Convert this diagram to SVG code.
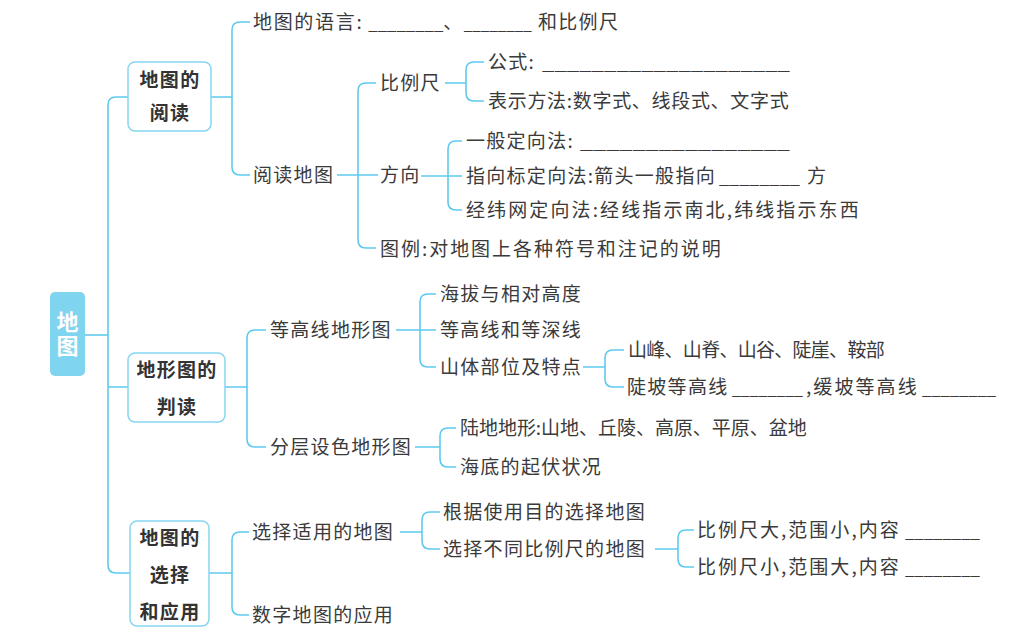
<svg xmlns="http://www.w3.org/2000/svg" width="1036" height="642" viewBox="0 0 1036 642">
<style>
text{font-family:"Noto Sans CJK SC","Noto Sans",sans-serif;}
.t{font-size:19px;fill:#3a3a3a;letter-spacing:1.3px;}
.u{letter-spacing:0;}
.b{font-size:19px;font-weight:bold;fill:#333;letter-spacing:1.3px;text-anchor:middle;}
.box{fill:#fff;stroke:#86d6f2;stroke-width:1.5;}
.c{fill:none;stroke:#5fcaef;stroke-width:1.6;}
</style>
<rect width="1036" height="642" fill="#fff"/>
<g id="connectors">
<path class="c" d="M85,335 H108"/>
<path class="c" d="M128,97 H116 Q108,97 108,105 V565 Q108,573 116,573 H130 M108,387 H128"/>
<path class="c" d="M211,97 H232 M250,22 H240 Q232,22 232,30 V167 Q232,175 240,175 H250"/>
<path class="c" d="M337,175 H378 M376,83 H366 Q358,83 358,91 V240 Q358,248 366,248 H376"/>
<path class="c" d="M445,83 H466 M484,62 H474 Q466,62 466,70 V93 Q466,101 474,101 H484"/>
<path class="c" d="M421,176 H462 M462,141 H456 Q448,141 448,149 V202 Q448,210 456,210 H462"/>
<path class="c" d="M225,387 H247 M266,330 H255 Q247,330 247,338 V439 Q247,447 255,447 H266"/>
<path class="c" d="M396,330 H436 M436,294 H428 Q420,294 420,302 V359 Q420,367 428,367 H436"/>
<path class="c" d="M583,367 H605 M624,350 H613 Q605,350 605,358 V379 Q605,387 613,387 H624"/>
<path class="c" d="M415,447 H440 M456,428 H448 Q440,428 440,436 V459 Q440,467 448,467 H456"/>
<path class="c" d="M209,573 H232 M249,532 H240 Q232,532 232,540 V607 Q232,615 240,615 H249"/>
<path class="c" d="M400,532 H422 M440,512 H430 Q422,512 422,520 V541 Q422,549 430,549 H440"/>
<path class="c" d="M655,549 H678 M694,530 H686 Q678,530 678,538 V559 Q678,567 686,567 H694"/>
</g>
<g id="root">
<rect x="50" y="292" width="35" height="84" rx="5" fill="#7fd4f0"/>
<text x="67.5" y="311" font-size="22" font-weight="bold" fill="#fff" writing-mode="tb" letter-spacing="2">地图</text>
</g>
<g id="box1">
<rect class="box" x="128" y="62" width="83" height="69" rx="7"/>
<text class="b" x="170" y="87">地图的</text>
<text class="b" x="170" y="120">阅读</text>
</g>
<g id="box2">
<rect class="box" x="128" y="353" width="97" height="69" rx="7"/>
<text class="b" x="177" y="377">地形图的</text>
<text class="b" x="177" y="414">判读</text>
</g>
<g id="box3">
<rect class="box" x="130" y="521" width="79" height="105" rx="7"/>
<text class="b" x="170" y="545">地图的</text>
<text class="b" x="170" y="582">选择</text>
<text class="b" x="170" y="619">和应用</text>
</g>
<g id="n-language">
<text class="t" x="253" y="29"><tspan textLength="110">地图的语言:</tspan><tspan class="u" dx="5" textLength="75" lengthAdjust="spacingAndGlyphs">________</tspan><tspan>、</tspan><tspan class="u" textLength="68" lengthAdjust="spacingAndGlyphs">________</tspan><tspan x="538">和比例尺</tspan></text>
</g>
<g id="n-read"><text class="t" x="253" y="182">阅读地图</text></g>
<g id="n-scale"><text class="t" x="380" y="90">比例尺</text></g>
<g id="n-formula">
<text class="t" x="488" y="69">公式:<tspan class="u" x="542" textLength="248" lengthAdjust="spacingAndGlyphs">____________________</tspan></text>
</g>
<g id="n-method"><text class="t" x="488" y="108" textLength="302">表示方法:数字式、线段式、文字式</text></g>
<g id="n-dir"><text class="t" x="380" y="182">方向</text></g>
<g id="n-general">
<text class="t" x="466" y="148"><tspan textLength="108">一般定向法:</tspan><tspan class="u" x="580" textLength="210" lengthAdjust="spacingAndGlyphs">________________</tspan></text>
</g>
<g id="n-arrow">
<text class="t" x="466" y="183"><tspan textLength="250">指向标定向法:箭头一般指向</tspan><tspan class="u" x="719" textLength="81" lengthAdjust="spacingAndGlyphs">________</tspan><tspan x="807">方</tspan></text>
</g>
<g id="n-grid"><text class="t" x="466" y="217" textLength="394">经纬网定向法:经线指示南北,纬线指示东西</text></g>
<g id="n-legend"><text class="t" x="380" y="256" textLength="342">图例:对地图上各种符号和注记的说明</text></g>
<g id="n-contour"><text class="t" x="270" y="337">等高线地形图</text></g>
<g id="n-alt"><text class="t" x="440" y="301">海拔与相对高度</text></g>
<g id="n-iso"><text class="t" x="440" y="337">等高线和等深线</text></g>
<g id="n-parts"><text class="t" x="440" y="374">山体部位及特点</text></g>
<g id="n-peaks"><text class="t" x="628" y="357" textLength="258">山峰、山脊、山谷、陡崖、鞍部</text></g>
<g id="n-slope">
<text class="t" x="627" y="394">陡坡等高线<tspan class="u" x="732" textLength="71" lengthAdjust="spacingAndGlyphs">________</tspan><tspan dx="3" textLength="112">,缓坡等高线</tspan><tspan class="u" x="922" textLength="74" lengthAdjust="spacingAndGlyphs">________</tspan></text>
</g>
<g id="n-layer"><text class="t" x="270" y="454">分层设色地形图</text></g>
<g id="n-land"><text class="t" x="460" y="435" textLength="348">陆地地形:山地、丘陵、高原、平原、盆地</text></g>
<g id="n-sea"><text class="t" x="460" y="474">海底的起伏状况</text></g>
<g id="n-select"><text class="t" x="252" y="539">选择适用的地图</text></g>
<g id="n-purpose"><text class="t" x="443" y="519">根据使用目的选择地图</text></g>
<g id="n-diffscale"><text class="t" x="443" y="556">选择不同比例尺的地图</text></g>
<g id="n-big">
<text class="t" x="697" y="537"><tspan textLength="203">比例尺大,范围小,内容</tspan><tspan class="u" x="905" textLength="75" lengthAdjust="spacingAndGlyphs">________</tspan></text>
</g>
<g id="n-small">
<text class="t" x="697" y="574"><tspan textLength="203">比例尺小,范围大,内容</tspan><tspan class="u" x="905" textLength="75" lengthAdjust="spacingAndGlyphs">________</tspan></text>
</g>
<g id="n-digital"><text class="t" x="252" y="622">数字地图的应用</text></g>
</svg>
